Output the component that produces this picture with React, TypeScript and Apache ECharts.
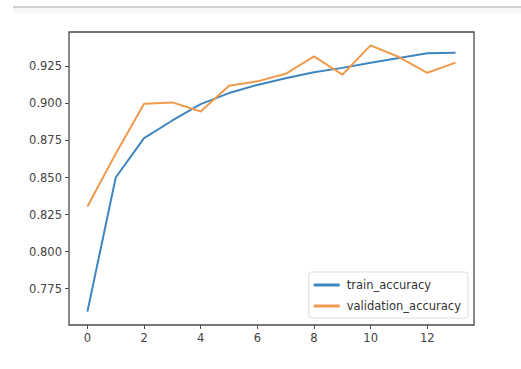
import React, { useEffect, useRef } from "react";
import * as echarts from "echarts";

const epochs = [0, 1, 2, 3, 4, 5, 6, 7, 8, 9, 10, 11, 12, 13];
const trainAccuracy = [0.7595, 0.850, 0.8766, 0.8885, 0.8995, 0.907, 0.9125, 0.917, 0.921, 0.924, 0.9275, 0.9306, 0.9338, 0.9342];
const validationAccuracy = [0.8304, 0.866, 0.8998, 0.9007, 0.8946, 0.912, 0.9149, 0.920, 0.9318, 0.9194, 0.9392, 0.9313, 0.9207, 0.9275];
const xTicks = [0, 2, 4, 6, 8, 10, 12];
const yTicks = [0.775, 0.8, 0.825, 0.85, 0.875, 0.9, 0.925];

export default function App() {
  const ref = useRef<HTMLDivElement>(null);
  useEffect(() => {
    document.body.style.margin = "0";
    if (!ref.current) return;
    const chart = echarts.init(ref.current, null, { renderer: "svg" });
    const font = "DejaVu Sans";
    chart.setOption({
      animation: false,
      backgroundColor: "#ffffff",
      graphic: [
        { type: "rect", shape: { x: 13, y: 8, width: 508, height: 5 }, style: { fill: "#f7f7f7" }, silent: true },
        { type: "line", shape: { x1: 13, y1: 7, x2: 521, y2: 7 }, style: { stroke: "#cfcfcf", lineWidth: 2 }, silent: true },
      ],
      grid: {
        left: 69,
        right: 47,
        top: 32,
        bottom: 44,
        show: true,
        borderColor: "#4a4a4a",
        borderWidth: 1.3,
        backgroundColor: "transparent",
      },
      legend: {
        orient: "vertical",
        right: 53,
        bottom: 51,
        itemWidth: 26,
        itemHeight: 3,
        itemGap: 9,
        padding: [7, 7, 6, 5],
        borderColor: "#dddddd",
        borderWidth: 1,
        borderRadius: 3,
        backgroundColor: "rgba(255,255,255,0.85)",
        textStyle: { fontFamily: font, fontSize: 11.5, color: "#333333", padding: [0, 0, 0, 2] },
        data: [
          { name: "train_accuracy", icon: "rect" },
          { name: "validation_accuracy", icon: "rect" },
        ],
      },
      xAxis: {
        type: "value",
        min: -0.65,
        max: 13.65,
        axisLine: { show: false, onZero: false },
        splitLine: { show: false },
        axisTick: { show: true, length: 4, lineStyle: { color: "#4a4a4a", width: 1 }, customValues: xTicks },
        axisLabel: { customValues: xTicks, fontFamily: font, fontSize: 11.5, color: "#444444", margin: 7 },
      },
      yAxis: {
        type: "value",
        min: 0.7505,
        max: 0.9482,
        axisLine: { show: false, onZero: false },
        splitLine: { show: false },
        axisTick: { show: true, length: 4, lineStyle: { color: "#4a4a4a", width: 1 }, customValues: yTicks },
        axisLabel: {
          customValues: yTicks,
          fontFamily: font,
          fontSize: 11.5,
          color: "#444444",
          margin: 7,
          formatter: (v: number) => v.toFixed(3),
        },
      },
      series: [
        {
          name: "train_accuracy",
          type: "line",
          data: epochs.map((e, i) => [e, trainAccuracy[i]]),
          showSymbol: false,
          symbol: "none",
          lineStyle: { color: "#3f86bf", width: 2 },
          itemStyle: { color: "#3f86bf" },
        },
        {
          name: "validation_accuracy",
          type: "line",
          data: epochs.map((e, i) => [e, validationAccuracy[i]]),
          showSymbol: false,
          symbol: "none",
          lineStyle: { color: "#f09a4e", width: 2 },
          itemStyle: { color: "#f09a4e" },
        },
      ],
    });
    return () => chart.dispose();
  }, []);
  return <div ref={ref} style={{ width: 521, height: 369 }} />;
}
